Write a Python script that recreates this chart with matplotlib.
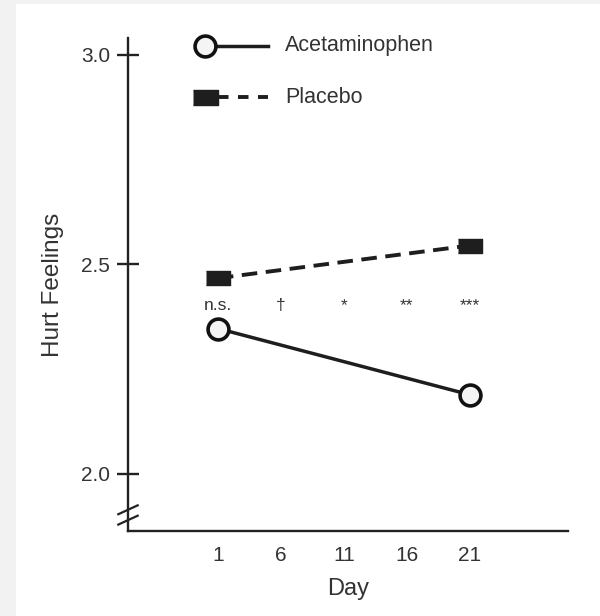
import matplotlib
matplotlib.use("Agg")
import matplotlib.pyplot as plt
from matplotlib.patches import Rectangle

plt.rcParams['font.family'] = ['Liberation Sans', 'DejaVu Sans']

# data
dias = [1, 21]
acetaminofeno = [2.347, 2.189]
placebo = [2.467, 2.545]
dias_ticks = [1, 6, 11, 16, 21]
y_ticks = [2.0, 2.5, 3.0]
sig_labels = ['n.s.', '\u2020', '*', '**', '***']
sig_y = 2.39

fig = plt.figure(figsize=(6.0, 6.16), dpi=100)
fig.patch.set_facecolor('#f2f2f2')
# painel branco
fig.patches.append(Rectangle((16 / 600, 0), 1, 1 - 4 / 616, transform=fig.transFigure,
                             facecolor='white', edgecolor='none', zorder=-10))

ax = fig.add_axes([0.2133, 0.138, 0.7334, 0.8003])
ax.set_facecolor('none')
ax.set_xlim(-6.14, 28.8)
ax.set_ylim(1.864, 3.04)

for s in ['top', 'right']:
    ax.spines[s].set_visible(False)
for s in ['left', 'bottom']:
    ax.spines[s].set_linewidth(1.7)
    ax.spines[s].set_color('#222222')

quadrado = [(-1, -0.6), (1, -0.6), (1, 0.6), (-1, 0.6)]

# linhas
ax.plot(dias, placebo, color='#1e1e1e', lw=2.8, dashes=(4, 2.2),
        marker=quadrado, ms=17, mfc='#1e1e1e', mec='#1e1e1e', zorder=3)
ax.plot(dias, acetaminofeno, color='#1e1e1e', lw=2.5,
        marker='o', ms=15, mfc='#f4f4f4', mec='#111111', mew=2.6, zorder=3)

# significancia
for d, lab in zip(dias_ticks, sig_labels):
    ax.text(d, sig_y, lab, ha='center', va='baseline', fontsize=12.5, color='#333333')

ax.set_xticks(dias_ticks)
ax.set_yticks(y_ticks)
ax.set_yticklabels(['%.1f' % v for v in y_ticks])
ax.tick_params(axis='x', length=0, pad=11, labelsize=15, colors='#333333')
ax.tick_params(axis='y', direction='inout', length=16, width=1.7, pad=5,
               labelsize=15, colors='#222222', labelcolor='#333333')

ax.set_xlabel('Day', fontsize=17, color='#333333', labelpad=9)
ax.set_ylabel('Hurt Feelings', fontsize=17.5, color='#333333', labelpad=12)

# quebra do eixo
for dy in (0.0, 0.021):
    ax.plot([-0.022, 0.022], [0.013 + dy, 0.031 + dy], transform=ax.transAxes,
            color='#222222', lw=1.6, clip_on=False)

# legenda manual
ax.plot([0.175, 0.318], [0.984, 0.984], transform=ax.transAxes, color='#1e1e1e',
        lw=2.5, clip_on=False)
ax.plot([0.175], [0.984], transform=ax.transAxes, marker='o', ms=15, mfc='#f4f4f4',
        mec='#111111', mew=2.6, clip_on=False)
ax.text(0.357, 0.984, 'Acetaminophen', transform=ax.transAxes, va='center',
        fontsize=15.5, color='#333333')
ax.plot([0.2045, 0.318], [0.88, 0.88], transform=ax.transAxes, color='#1e1e1e',
        lw=2.8, dashes=(2.7, 2.44), clip_on=False)
ax.plot([0.175], [0.88], transform=ax.transAxes, marker=quadrado, ms=18,
        mfc='#1e1e1e', mec='#1e1e1e', clip_on=False)
ax.text(0.357, 0.88, 'Placebo', transform=ax.transAxes, va='center',
        fontsize=15.5, color='#333333')

fig.savefig('out.png', dpi=100, facecolor=fig.get_facecolor())
